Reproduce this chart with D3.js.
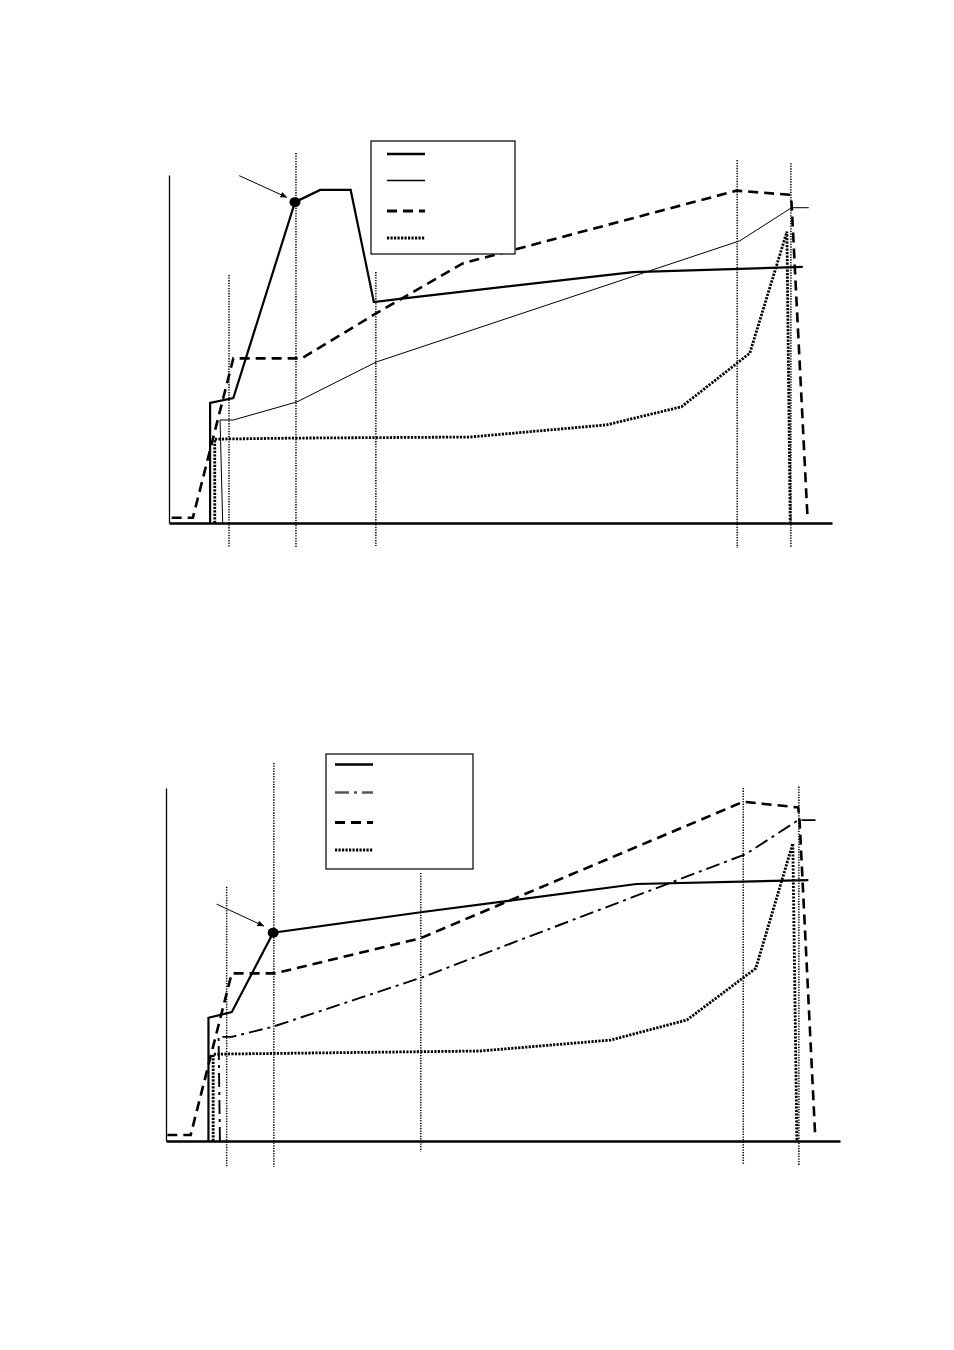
<!DOCTYPE html>
<html>
<head>
<meta charset="utf-8">
<script src="https://cdn.jsdelivr.net/npm/d3@7"></script>
<style>
  html, body { margin: 0; padding: 0; background: #fff; }
  svg { display: block; }
</style>
</head>
<body>
<div id="chart"></div>
<script>
// ── Data (x and y in 0–100 chart units) ──

// top panel
var aSolidX = [6.2, 6.2, 9.7, 19.0, 22.8, 27.4, 30.9, 34.8, 70.0, 95.6];
var aSolidY = [0, 34.5, 35.9, 92.2, 95.7, 95.7, 63.5, 64.4, 72.1, 73.6];
var aThinX = [8.1, 7.7, 9.7, 19.3, 31.3, 86.1, 93.9, 96.5];
var aThinY = [0, 29.6, 29.6, 34.8, 46.3, 81.1, 90.6, 90.6];
var aDashX = [0.4, 3.6, 9.7, 20.0, 31.3, 44.3, 85.6, 93.7, 93.9, 96.3];
var aDashY = [1.5, 1.5, 47.3, 47.3, 60.3, 74.6, 95.5, 94.3, 92.0, 1.8];
var aDotX = [6.9, 6.9, 19.2, 45.4, 66.0, 77.3, 87.6, 93.2, 93.7];
var aDotY = [0, 24.1, 24.4, 24.7, 28.2, 33.4, 48.8, 83.7, 0];
var aGuideX = [9.05, 19.15, 31.2, 85.7, 93.8];
var aGuideTop = [71.3, 106.3, 72.1, 104.3, 103.4];
var aGuideBottom = [-7.2, -7.2, -6.6, -7.2, -7.2];
var aMarker = [19.0, 92.2];
var aArrow = [10.6, 99.8, 17.75, 93.6];

// bottom panel
var bSolidX = [6.3, 6.3, 9.75, 15.9, 37.8, 69.8, 95.3];
var bSolidY = [0, 34.9, 36.5, 59.0, 64.8, 72.8, 73.9];
var bDashDotX = [8.0, 7.8, 9.75, 15.9, 37.9, 86.05, 93.8, 96.6];
var bDashDotY = [0, 29.5, 29.5, 32.4, 46.3, 81.3, 90.9, 90.9];
var bDashX = [0.2, 3.66, 9.75, 16.2, 37.7, 85.65, 93.8, 94.0, 96.3];
var bDashY = [1.7, 1.7, 47.5, 47.5, 57.4, 96.1, 94.5, 90.9, 2.2];
var bDotX = [7.0, 7.0, 46.6, 66.0, 77.3, 87.5, 93.0, 93.6];
var bDotY = [0, 24.6, 25.5, 28.6, 34.3, 48.9, 84.3, 0];
var bGuideX = [9.0, 16.0, 37.8, 85.65, 93.9];
var bGuideTop = [72.0, 107.1, 75.9, 100, 100.4];
var bGuideBottom = [-7.3, -7.3, -3.0, -6.8, -6.8];
var bMarker = [15.9, 59.0];
var bArrow = [7.5, 67.1, 14.5, 60.9];

// ── Styles ──
var STYLES = {
  solid:   { width: 2.2, dash: null },
  thin:    { width: 1,   dash: null },
  dash:    { width: 2.6, dash: '10,6' },
  dot:     { width: 2.8, dash: '2.2,1.3' },
  dashdot: { width: 1.9, dash: '14,5,3,5' }
};

var W = 954, H = 1350;

var svg = d3.select('#chart').append('svg')
  .attr('width', W).attr('height', H)
  .attr('viewBox', '0 0 ' + W + ' ' + H);

svg.append('defs').append('marker')
  .attr('id', 'arrowhead')
  .attr('viewBox', '0 0 10 10')
  .attr('refX', 9).attr('refY', 5)
  .attr('markerWidth', 7).attr('markerHeight', 7)
  .attr('orient', 'auto')
  .append('path')
  .attr('d', 'M0,1 L10,5 L0,9 Z')
  .attr('fill', '#000');

function zip(xs, ys) {
  return xs.map(function (x, i) { return [x, ys[i]]; });
}

function drawPanel(p) {
  var x = d3.scaleLinear().domain([0, 100]).range([p.left, p.right]);
  var y = d3.scaleLinear().domain([0, 100]).range([p.base, p.top]);
  var g = svg.append('g');

  // axes (no ticks)
  g.append('g')
    .attr('transform', 'translate(' + p.left + ',0)')
    .call(d3.axisLeft(y).tickValues([]).tickSizeOuter(0))
    .call(function (s) { s.select('.domain').attr('stroke-width', 1.3); });
  g.append('g')
    .attr('transform', 'translate(0,' + p.base + ')')
    .call(d3.axisBottom(x).tickValues([]).tickSizeOuter(0))
    .call(function (s) { s.select('.domain').attr('stroke-width', 2.4); });

  // vertical dotted guides
  g.selectAll('.guide')
    .data(p.guideX)
    .join('line')
    .attr('class', 'guide')
    .attr('x1', function (d) { return x(d); })
    .attr('x2', function (d) { return x(d); })
    .attr('y1', function (d, i) { return y(p.guideTop[i]); })
    .attr('y2', function (d, i) { return y(p.guideBottom[i]); })
    .attr('stroke', '#000')
    .attr('stroke-width', 1.5)
    .attr('stroke-dasharray', '1.3,1.3');

  var line = d3.line()
    .x(function (d) { return x(d[0]); })
    .y(function (d) { return y(d[1]); });

  p.series.forEach(function (s) {
    var st = STYLES[s.style];
    g.append('path')
      .datum(zip(s.x, s.y))
      .attr('d', line)
      .attr('fill', 'none')
      .attr('stroke', s.color || '#000')
      .attr('stroke-width', st.width)
      .attr('stroke-linejoin', 'miter')
      .attr('stroke-dasharray', st.dash);
  });

  // marker + arrow
  g.append('ellipse')
    .attr('cx', x(p.marker[0])).attr('cy', y(p.marker[1]))
    .attr('rx', 5.5).attr('ry', 5)
    .attr('fill', '#000');
  g.append('line')
    .attr('x1', x(p.arrow[0])).attr('y1', y(p.arrow[1]))
    .attr('x2', x(p.arrow[2])).attr('y2', y(p.arrow[3]))
    .attr('stroke', '#000').attr('stroke-width', 1)
    .attr('marker-end', 'url(#arrowhead)');

  // legend (no labels)
  var L = p.legend;
  g.append('rect')
    .attr('x', L.x).attr('y', L.y).attr('width', L.w).attr('height', L.h)
    .attr('fill', '#fff').attr('stroke', '#000').attr('stroke-width', 1.2);
  p.series.forEach(function (s, i) {
    var st = STYLES[s.style];
    g.append('line')
      .attr('x1', L.x + L.lx0).attr('x2', L.x + L.lx1)
      .attr('y1', L.y + L.ly[i]).attr('y2', L.y + L.ly[i])
      .attr('stroke', s.legendColor || s.color || '#000')
      .attr('stroke-width', st.width + 0.4)
      .attr('stroke-dasharray', st.dash);
  });
}

drawPanel({
  left: 169, right: 832, base: 523, top: 175,
  guideX: aGuideX, guideTop: aGuideTop, guideBottom: aGuideBottom,
  marker: aMarker, arrow: aArrow,
  series: [
    { x: aSolidX, y: aSolidY, style: 'solid' },
    { x: aThinX, y: aThinY, style: 'thin' },
    { x: aDashX, y: aDashY, style: 'dash' },
    { x: aDotX, y: aDotY, style: 'dot' }
  ],
  legend: { x: 371, y: 141, w: 144, h: 113, lx0: 16, lx1: 54, ly: [13, 39.5, 70, 97] }
});

drawPanel({
  left: 166, right: 840, base: 1141, top: 788,
  guideX: bGuideX, guideTop: bGuideTop, guideBottom: bGuideBottom,
  marker: bMarker, arrow: bArrow,
  series: [
    { x: bSolidX, y: bSolidY, style: 'solid' },
    { x: bDashDotX, y: bDashDotY, style: 'dashdot', legendColor: '#555' },
    { x: bDashX, y: bDashY, style: 'dash' },
    { x: bDotX, y: bDotY, style: 'dot' }
  ],
  legend: { x: 326, y: 754, w: 147, h: 115, lx0: 9, lx1: 47, ly: [10.5, 38.5, 68.5, 96] }
});
</script>
</body>
</html>
